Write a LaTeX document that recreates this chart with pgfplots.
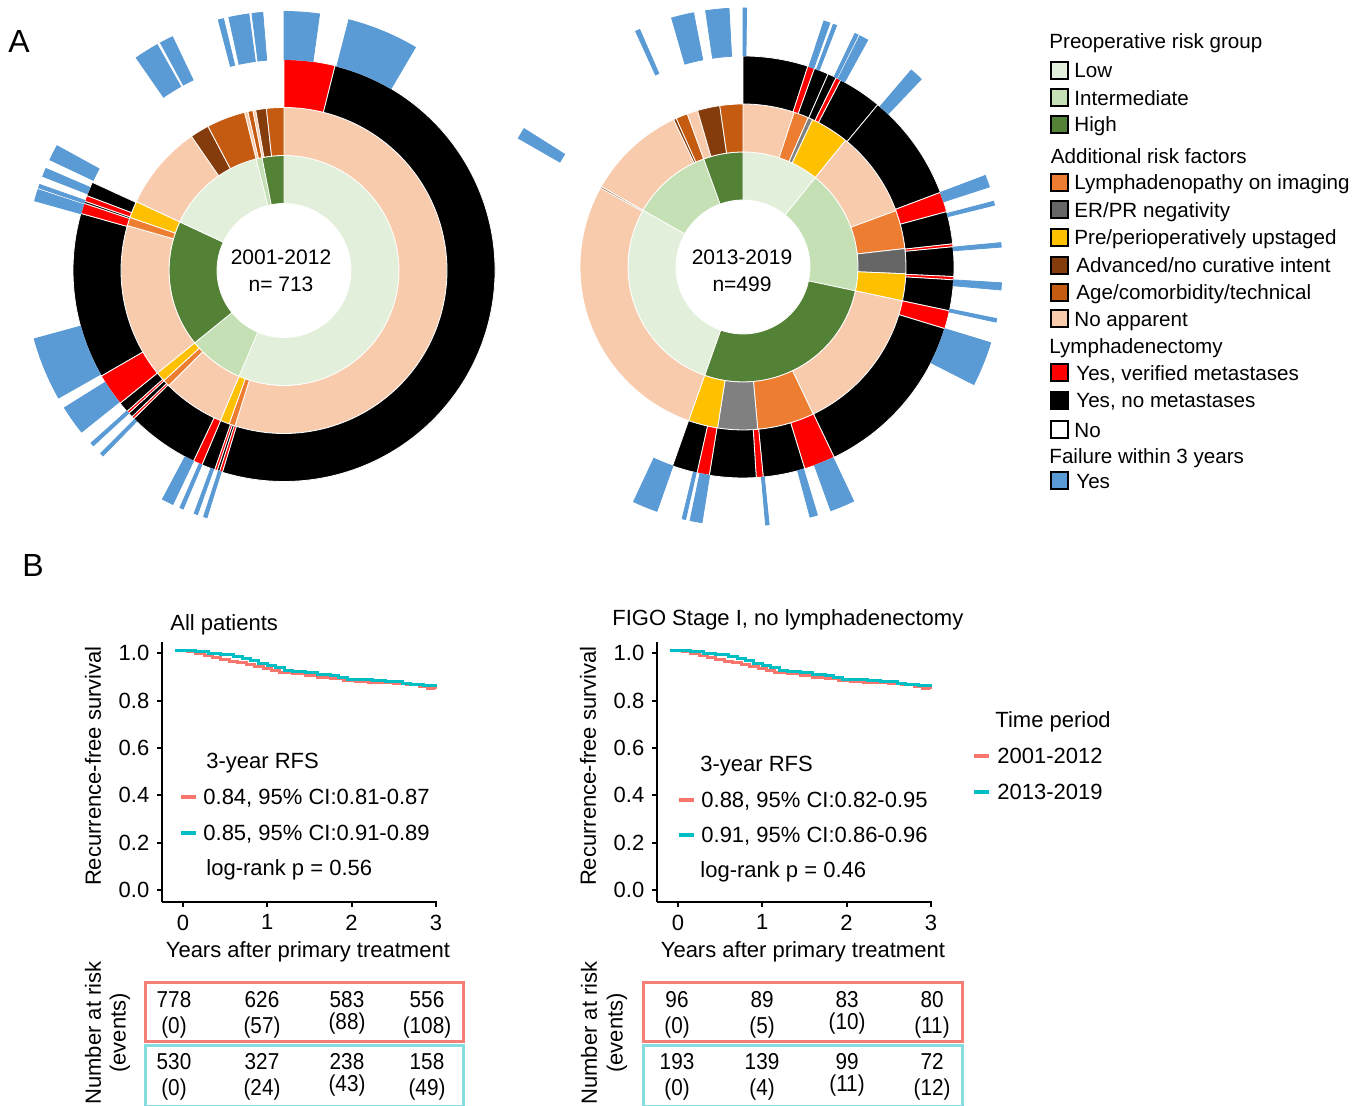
\documentclass[border=0pt]{standalone}
\usepackage{fontspec}
\setmainfont{Liberation Sans}
\usepackage{pgfplots}
\usepackage{pgfplotstable}
\pgfplotsset{compat=1.18}

\definecolor{lowc}{HTML}{E2EFDA}
\definecolor{intc}{HTML}{C5E0B4}
\definecolor{highc}{HTML}{538135}
\definecolor{lymc}{HTML}{ED7D31}
\definecolor{erc}{HTML}{666666}
\definecolor{erb}{HTML}{808080}
\definecolor{upc}{HTML}{FFC000}
\definecolor{advc}{HTML}{843C0C}
\definecolor{agec}{HTML}{C55A11}
\definecolor{noac}{HTML}{F8CBAD}
\definecolor{redc}{HTML}{FF0000}
\definecolor{bluec}{HTML}{5B9BD5}
\definecolor{salmon}{HTML}{F8766D}
\definecolor{kmcyan}{HTML}{00BFC4}
\definecolor{boxred}{HTML}{F47F76}
\definecolor{boxcyan}{HTML}{85DDE0}

\def\segcol{white}
% wedge: start angle, end angle (clockwise from top, degrees), inner r, outer r, colour, border
\newcommand{\seg}[6]{\filldraw[fill=#5,draw=#6,line width=0.4pt]
 (axis cs:{#4*cos(90-(#1))},{#4*sin(90-(#1))})
 arc[start angle={90-(#1)},end angle={90-(#2)},radius={#4*0.5pt}]
 -- (axis cs:{#3*cos(90-(#2))},{#3*sin(90-(#2))})
 arc[start angle={90-(#2)},end angle={90-(#1)},radius={#3*0.5pt}] -- cycle;}
\newcommand{\Ra}[3]{\seg{#1}{#2}{67}{115}{#3}{\segcol}}
\newcommand{\Rb}[3]{\seg{#1}{#2}{115}{163}{#3}{\segcol}}
\newcommand{\Rc}[3]{\seg{#1}{#2}{163}{211}{#3}{\segcol}}
\newcommand{\Rd}[2]{\seg{#1}{#2}{211}{259}{bluec}{bluec}}

\tikzset{lab/.style={inner sep=0pt,text height=0.72em,text depth=0pt}}
\newcommand{\tx}[4]{\node[lab,anchor=#1] at (#2,{1106-(#3)}) {#4};}
\newcommand{\lgd}[4]{\draw[line width=1pt,fill=#2] (1050.5,{1106-(#1)-8.5}) rectangle (1067.5,{1106-(#1)+8.5}); \node[lab,anchor=west] at (#3,{1106-(#1)}) {#4};}
\newcommand{\rk}[3]{\node[lab,anchor=center,xscale=0.9] at (#1,{1106-(#2)}) {#3};}

\pgfplotsset{
 sunb/.style={anchor=center, x=0.5pt, y=0.5pt, xmin=-270, xmax=270, ymin=-270, ymax=270, hide axis, clip=false},
 km/.style={anchor=south west, x=42.15pt, y=118.5pt,
  xmin=-0.249, xmax=3.01, ymin=-0.05, ymax=1.046,
  axis x line*=bottom, axis y line*=left,
  axis line style={line width=1pt},
  every tick/.style={black, line width=1pt},
  major tick length=2.5pt, tick align=outside,
  xtick={0,1,2,3}, ytick={0,0.2,0.4,0.6,0.8,1},
  yticklabel style={/pgf/number format/fixed, /pgf/number format/fixed zerofill, /pgf/number format/precision=1},
  /pgf/number format/assume math mode=true,
  clip=false,
  xlabel={Years after primary treatment},
  ylabel={Recurrence-free survival},
  xlabel style={at={(axis description cs:0.531,-0.19)}, anchor=center},
  ylabel style={at={(axis description cs:-0.251,0.523)}, anchor=center},
 }
}

\pgfplotstableread{
t s
-0.1 1.012
0.05 1.006
0.15 0.998
0.25 0.990
0.35 0.983
0.45 0.975
0.55 0.966
0.65 0.960
0.75 0.952
0.85 0.944
0.95 0.934
1.05 0.925
1.15 0.917
1.30 0.912
1.45 0.905
1.60 0.898
1.75 0.892
1.90 0.886
2.05 0.882
2.20 0.878
2.35 0.875
2.50 0.871
2.65 0.866
2.80 0.858
2.90 0.852
3.00 0.849
}\kmA
\pgfplotstableread{
t s
-0.1 1.013
0.15 1.008
0.30 1.000
0.45 0.993
0.60 0.985
0.70 0.977
0.80 0.968
0.90 0.958
1.00 0.948
1.10 0.938
1.20 0.928
1.30 0.922
1.45 0.917
1.60 0.911
1.75 0.904
1.85 0.896
1.95 0.889
2.10 0.887
2.25 0.885
2.40 0.882
2.50 0.879
2.60 0.872
2.70 0.866
2.85 0.862
3.00 0.860
}\kmB

\begin{document}
\fontsize{11}{13}\selectfont
\begin{tikzpicture}[x=0.5pt,y=0.5pt]
\useasboundingbox (0,0) rectangle (1369,1106);

% ---------------- left sunburst 2001-2012
\def\segcol{white}
\begin{axis}[sunb, at={(142pt,417.75pt)}]
\addplot[draw=none] coordinates {(0,0)};
% ring 1: preoperative risk group
\Ra{0}{203}{lowc}\Ra{203}{231}{intc}\Ra{231}{295}{highc}\Ra{295}{346}{lowc}\Ra{346}{349}{intc}\Ra{349}{360}{highc}
% ring 2: additional risk factors
\Rb{0}{197.5}{noac}\Rb{197.5}{199.7}{lymc}\Rb{199.7}{203}{upc}
\Rb{203}{225}{noac}\Rb{225}{227.5}{lymc}\Rb{227.5}{231}{upc}
\Rb{231}{286}{noac}\Rb{286}{289}{lymc}\Rb{289}{295}{upc}
\Rb{295}{325.4}{noac}\Rb{325.4}{332.2}{advc}\Rb{332.2}{346}{agec}
\Rb{346}{347.2}{noac}\Rb{347.2}{349}{agec}
\Rb{349}{350}{noac}\Rb{350}{353.8}{advc}\Rb{353.8}{360}{agec}
% ring 3: lymphadenectomy
\Rc{0}{14}{redc}\Rc{14}{197}{black}\Rc{197}{197.8}{redc}\Rc{197.8}{198.5}{black}
\Rc{198.5}{199.2}{redc}\Rc{199.2}{202.9}{black}\Rc{202.9}{205.4}{redc}
\Rc{205.4}{225.4}{black}\Rc{225.4}{226.1}{redc}\Rc{226.1}{227.4}{black}
\Rc{227.4}{228.1}{redc}\Rc{228.1}{231}{black}\Rc{231}{240}{redc}
\Rc{240}{285.7}{black}\Rc{285.7}{288.6}{redc}\Rc{288.6}{289.2}{black}
\Rc{289.2}{290.8}{redc}\Rc{290.8}{294.7}{black}
% ring 4: failure within 3 years
\Rd{0}{7.9}\Rd{14.5}{30.5}\Rd{197.3}{198.1}\Rd{199.5}{200.3}\Rd{202.9}{203.7}
\Rd{205.4}{208}\Rd{224.3}{225.1}\Rd{227.4}{228.2}\Rd{231.4}{238}\Rd{240.5}{254.7}
\Rd{285.6}{288.2}\Rd{288.6}{289.4}\Rd{291.3}{293.2}\Rd{295.3}{298.8}
\Rd{325.2}{330.7}\Rd{331.5}{334.5}\Rd{345.3}{346.5}\Rd{347.7}{352.2}\Rd{352.9}{355.3}
\end{axis}

% ---------------- right sunburst 2013-2019
\begin{axis}[sunb, at={(371.5pt,419.5pt)}]
\addplot[draw=none] coordinates {(0,0)};
\def\segcol{black!18}
\Ra{0}{39}{lowc}\Ra{39}{102}{intc}\Ra{102}{199.5}{highc}\Ra{199.5}{299.6}{lowc}\Ra{299.6}{340}{intc}\Ra{340}{360}{highc}
\Rb{0}{18.3}{noac}\Rb{18.3}{23.6}{lymc}\Rb{23.6}{25.3}{erb}\Rb{25.3}{39}{upc}
\Rb{39}{69.8}{noac}\Rb{69.8}{83.5}{lymc}\Rb{83.5}{92.4}{erc}\Rb{92.4}{102}{upc}
\Rb{102}{154.5}{noac}\Rb{154.5}{174.8}{lymc}\Rb{174.8}{189}{erb}\Rb{189}{199.5}{upc}
\Rb{199.5}{299}{noac}\Rb{299}{299.6}{advc}
\Rb{299.6}{334.8}{noac}\Rb{334.8}{335.8}{advc}\Rb{335.8}{340}{agec}
\Rb{340}{343.8}{noac}\Rb{343.8}{351.8}{advc}\Rb{351.8}{360}{agec}
\def\segcol{white}
\Rc{0}{17.9}{black}\Rc{17.9}{19.8}{redc}\Rc{19.8}{23.8}{black}\Rc{23.8}{26.2}{black}
\Rc{26.2}{27.6}{redc}\Rc{27.6}{39.7}{black}\Rc{39.7}{69.3}{black}\Rc{69.3}{74.8}{redc}
\Rc{74.8}{83.7}{black}\Rc{83.7}{84.5}{redc}\Rc{84.5}{92.6}{black}\Rc{92.6}{93.5}{redc}
\Rc{93.5}{102}{black}\Rc{102}{107}{redc}\Rc{107}{154.4}{black}\Rc{154.4}{163}{redc}
\Rc{163}{174.5}{black}\Rc{174.5}{176.4}{redc}\Rc{176.4}{189.2}{black}\Rc{189.2}{192.6}{redc}
\Rc{192.6}{199.5}{black}
\Rd{0}{0.8}\Rd{18.2}{19.6}\Rd{20.4}{21.2}\Rd{25.6}{26.4}\Rd{26.8}{28.8}\Rd{40.5}{43.5}
\Rd{69.3}{72}\Rd{75.3}{76.2}\Rd{84.6}{85.6}\Rd{93.5}{95.1}\Rd{101.5}{102.3}\Rd{107}{117}
\Rd{154.7}{160.2}\Rd{163.3}{165}\Rd{174.2}{175}\Rd{189.1}{191.8}\Rd{192.8}{193.6}\Rd{199.4}{205}
\Rd{299.8}{302.3}\Rd{335.5}{336.5}\Rd{344}{349}\Rd{351.7}{356.9}
\end{axis}

% centre texts
{\fontsize{10.5}{12}\selectfont
\tx{center}{281}{257}{2001-2012}
\tx{center}{281}{284}{n= 713}
\tx{center}{742}{257}{2013-2019}
\tx{center}{742}{284}{n=499}
}

% panel letters
{\fontsize{16}{18}\selectfont
\tx{center}{19}{41}{A}
\tx{center}{33}{565}{B}
}

% legend of the sunbursts
{\fontsize{10.3}{12}\selectfont
\tx{west}{1049}{41.5}{Preoperative risk group}
\lgd{70.5}{lowc}{1074}{Low}
\lgd{97.8}{intc}{1074}{Intermediate}
\lgd{124.5}{highc}{1074}{High}
\tx{west}{1050.5}{156.5}{Additional risk factors}
\lgd{182.5}{lymc}{1074}{Lymphadenopathy on imaging}
\lgd{209.8}{erc}{1074}{ER/PR negativity}
\lgd{237.5}{upc}{1074}{Pre/perioperatively upstaged}
\lgd{265.3}{advc}{1076}{Advanced/no curative intent}
\lgd{292.5}{agec}{1076}{Age/comorbidity/technical}
\lgd{318.7}{noac}{1074}{No apparent}
\tx{west}{1049}{346.5}{Lymphadenectomy}
\lgd{373}{redc}{1076}{Yes, verified metastases}
\lgd{400.3}{black}{1076}{Yes, no metastases}
\lgd{429.7}{white}{1074}{No}
\tx{west}{1049}{456.5}{Failure within 3 years}
\lgd{481}{bluec}{1076}{Yes}
}

% ---------------- KM left (axis area: x 162-437, y 642-902 px)
\begin{axis}[km, at={(81pt,102pt)}, title={All patients},
  title style={at={(axis description cs:0.029,1.019)}, anchor=west, yshift=0pt, inner sep=0pt}]
\addplot[const plot, salmon, line width=1.5pt] table[x=t,y=s]{\kmA};
\addplot[const plot, kmcyan, line width=1.5pt] table[x=t,y=s]{\kmB};
\end{axis}
\tx{west}{206}{761}{3-year RFS}
\draw[salmon,line width=2.2pt] (181,{1106-797}) -- (196,{1106-797});
\tx{west}{203}{797}{0.84, 95\% CI:0.81-0.87}
\draw[kmcyan,line width=2.2pt] (181,{1106-833}) -- (196,{1106-833});
\tx{west}{203}{833}{0.85, 95\% CI:0.91-0.89}
\tx{west}{206}{868}{log-rank p = 0.56}

% ---------------- KM right (axis area: x 657-932)
\begin{axis}[km, at={(328.5pt,102pt)}, title={FIGO Stage I, no lymphadenectomy},
  title style={at={(axis description cs:-0.164,1.042)}, anchor=west, yshift=0pt, inner sep=0pt}]
\addplot[const plot, salmon, line width=1.5pt] table[x=t,y=s]{\kmA};
\addplot[const plot, kmcyan, line width=1.5pt] table[x=t,y=s]{\kmB};
\end{axis}
\tx{west}{700}{764}{3-year RFS}
\draw[salmon,line width=2.2pt] (679,{1106-800}) -- (694,{1106-800});
\tx{west}{701}{800}{0.88, 95\% CI:0.82-0.95}
\draw[kmcyan,line width=2.2pt] (679,{1106-835}) -- (694,{1106-835});
\tx{west}{701}{835}{0.91, 95\% CI:0.86-0.96}
\tx{west}{700}{870}{log-rank p = 0.46}

% time period legend
\tx{west}{995}{720}{Time period}
\draw[salmon,line width=2.2pt] (974,{1106-756}) -- (989,{1106-756});
\tx{west}{997}{756}{2001-2012}
\draw[kmcyan,line width=2.2pt] (974,{1106-792}) -- (989,{1106-792});
\tx{west}{997}{792}{2013-2019}

% ---------------- risk tables
\node[rotate=90,anchor=center,inner sep=0pt] at (93,{1106-1033}) {Number at risk};
\node[rotate=90,anchor=center,inner sep=0pt] at (120,{1106-1033}) {(events)};
\node[rotate=90,anchor=center,inner sep=0pt] at (589,{1106-1033}) {Number at risk};
\node[rotate=90,anchor=center,inner sep=0pt] at (617,{1106-1033}) {(events)};
\draw[boxred,line width=1.5pt] (145,{1106-983}) rectangle (463,{1106-1042});
\draw[boxcyan,line width=1.5pt] (145,{1106-1046}) rectangle (463,{1106-1107});
\draw[boxred,line width=1.5pt] (643,{1106-983}) rectangle (962,{1106-1042});
\draw[boxcyan,line width=1.5pt] (643,{1106-1046}) rectangle (962,{1106-1107});
{\fontsize{11.5}{13}\selectfont
\rk{174}{999}{778}\rk{262}{999}{626}\rk{347}{999}{583}\rk{427}{999}{556}
\rk{174}{1025}{(0)}\rk{262}{1025}{(57)}\rk{347}{1021}{(88)}\rk{427}{1025}{(108)}
\rk{174}{1061}{530}\rk{262}{1061}{327}\rk{347}{1061}{238}\rk{427}{1061}{158}
\rk{174}{1087}{(0)}\rk{262}{1087}{(24)}\rk{347}{1083}{(43)}\rk{427}{1087}{(49)}
\rk{677}{999}{96}\rk{762}{999}{89}\rk{847}{999}{83}\rk{932}{999}{80}
\rk{677}{1025}{(0)}\rk{762}{1025}{(5)}\rk{847}{1021}{(10)}\rk{932}{1025}{(11)}
\rk{677}{1061}{193}\rk{762}{1061}{139}\rk{847}{1061}{99}\rk{932}{1061}{72}
\rk{677}{1087}{(0)}\rk{762}{1087}{(4)}\rk{847}{1083}{(11)}\rk{932}{1087}{(12)}
}
\end{tikzpicture}
\end{document}
